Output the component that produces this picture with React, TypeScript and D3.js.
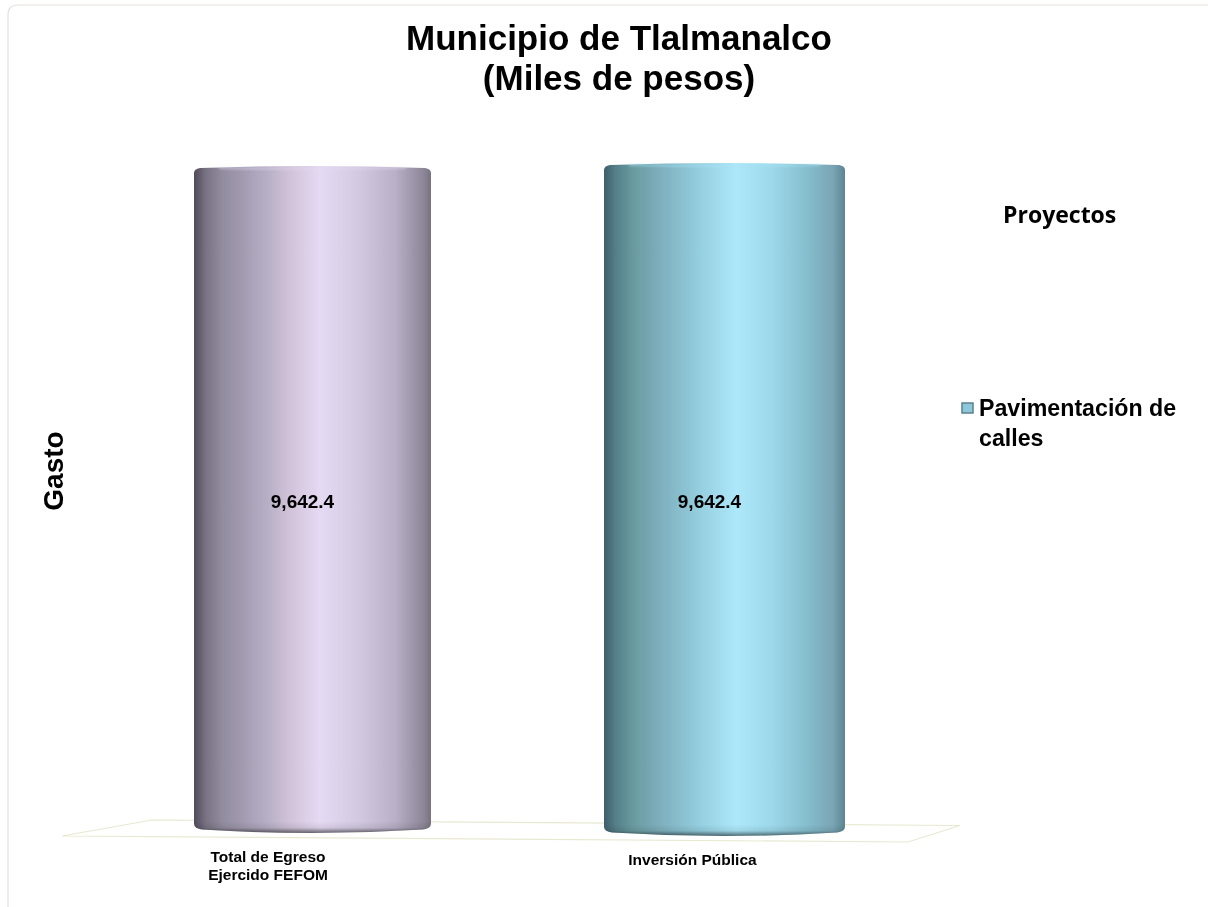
import React from "react";
import * as d3 from "d3";

const titleLines = ["Municipio de Tlalmanalco", "(Miles de pesos)"];
const categories = ["Total de Egreso|Ejercido FEFOM", "Inversión Pública"];
const values = [9642.4, 9642.4];
const legendTitle = "Proyectos";
const legendLines = ["Pavimentación de", "calles"];
const yLabel = "Gasto";

const purpleStops: [number, string][] = [[0, "#4f4b5a"], [0.05, "#787383"], [0.12, "#928c9f"], [0.3, "#b5adc4"], [0.4, "#d0c2d8"], [0.53, "#e5daf3"], [0.7, "#d2c9e0"], [0.85, "#b9afc6"], [0.97, "#8c8698"], [1, "#77727f"]];
const cyanStops: [number, string][] = [[0, "#3f5f6a"], [0.05, "#55808a"], [0.12, "#6a9aa0"], [0.25, "#80b2c0"], [0.4, "#95cfe0"], [0.55, "#ade8fa"], [0.7, "#9cd8ea"], [0.85, "#84bccc"], [0.95, "#7aa5b5"], [1, "#5a8590"]];
const palette = [purpleStops, cyanStops];
const capColors = ["#e3d9ef", "#a9e4f5"];
const font = "'Liberation Sans', Arial, sans-serif";

const x = d3.scalePoint<string>().domain(categories).range([312.5, 724.5]);
const y = d3.scaleLinear().domain([0, d3.max(values) as number]).range([829.5, 171]);
const grow = [0, 1];
const labelShift = [-10, -15];
const catLabelX = [268, 692.5];
const catLabelY = [862, 865];
const floor: [number, number][] = [[62, 836], [152, 820], [960, 825.5], [908, 842]];
const floorLine = d3.line().curve(d3.curveLinearClosed);

function barPath(x0: number, x1: number, top: number, bottom: number) {
  const mid = (x0 + x1) / 2;
  return `M${x0},${bottom - 6} L${x0},${top + 2} Q${x0},${top - 2} ${x0 + 6},${top - 3} Q${mid},${top - 7} ${x1 - 6},${top - 3} Q${x1},${top - 2} ${x1},${top + 2} L${x1},${bottom - 6} Q${x1},${bottom - 1} ${x1 - 8},${bottom} Q${mid},${bottom + 7} ${x0 + 8},${bottom} Q${x0},${bottom - 1} ${x0},${bottom - 6} Z`;
}

export default function App() {
  return (
    <svg width={1208} height={907} viewBox="0 0 1208 907" style={{ position: "absolute", left: 0, top: 0, background: "#fff" }}>
      <defs>
        {palette.map((stops, i) => (
          <linearGradient key={i} id={`bar${i}`} x1="0" x2="1" y1="0" y2="0">
            {stops.map(([o, c]) => <stop key={o} offset={o} stopColor={c} />)}
          </linearGradient>
        ))}
        <linearGradient id="shadeB" x1="0" x2="0" y1="0" y2="1">
          <stop offset="0" stopColor="#000" stopOpacity="0" />
          <stop offset="0.55" stopColor="#000" stopOpacity="0.08" />
          <stop offset="1" stopColor="#000" stopOpacity="0.55" />
        </linearGradient>
        <filter id="soft" x="-5%" y="-5%" width="110%" height="110%">
          <feGaussianBlur stdDeviation="0.5" />
        </filter>
        <filter id="softCap" x="-5%" y="-200%" width="110%" height="500%">
          <feGaussianBlur stdDeviation="0.9" />
        </filter>
      </defs>
      <path d="M8,907 L8,15 Q8,5 18,5 L1208,5" fill="none" stroke="#e4e2de" strokeWidth={1.2} />
      <path d={floorLine(floor) as string} fill="none" stroke="#e9e8d2" strokeWidth={1.2} />
      {categories.map((c, i) => {
        const cx = x(c) as number;
        const half = 118.5 + 2 * grow[i];
        const top = y(values[i]) - 3 * grow[i];
        const bottom = y(0) + 3 * grow[i];
        const d = barPath(cx - half, cx + half, top, bottom);
        return (
          <g key={c} filter="url(#soft)">
            <path d={d} fill={`url(#bar${i})`} />
            <path d={`M${cx - half},${bottom - 8} H${cx + half} V${bottom - 6} Q${cx + half},${bottom - 1} ${cx + half - 8},${bottom} Q${cx},${bottom + 7} ${cx - half + 8},${bottom} Q${cx - half},${bottom - 1} ${cx - half},${bottom - 6} Z`} fill="url(#shadeB)" />
            <path d={`M${cx - half + 25},${top - 3} Q${cx},${top - 1} ${cx + half - 25},${top - 3}`} fill="none" stroke={capColors[i]} strokeWidth={2} opacity={0.55} filter="url(#softCap)" />
          </g>
        );
      })}
      <g fontFamily={font} fontWeight="bold" fill="#000" filter="url(#soft)">
        {titleLines.map((t, i) => (
          <text key={t} x={619} y={50 + i * 40} textAnchor="middle" fontSize={35}>{t}</text>
        ))}
        <text transform="translate(63,471) rotate(-90)" textAnchor="middle" fontSize={28}>{yLabel}</text>
        {categories.map((c, i) => (
          <text key={c} x={(x(c) as number) + labelShift[i]} y={y(values[i] / 2) + 8} textAnchor="middle" fontSize={19}>
            {d3.format(",.1f")(values[i])}
          </text>
        ))}
        {categories.map((c, i) =>
          c.split("|").map((line, j) => (
            <text key={line} x={catLabelX[i]} y={catLabelY[i] + j * 18} textAnchor="middle" fontSize={15.5}>{line}</text>
          ))
        )}
        {legendLines.map((t, i) => (
          <text key={t} x={979} y={416 + i * 30} fontSize={23.2}>{t}</text>
        ))}
        <text x={1003} y={223} fontSize={23} fontFamily="'Open Sans', sans-serif">{legendTitle}</text>
      </g>
      <rect x={962} y={403} width={11} height={10} fill="#8cc8da" stroke="#5f7f8c" strokeWidth={1.5} />
    </svg>
  );
}
